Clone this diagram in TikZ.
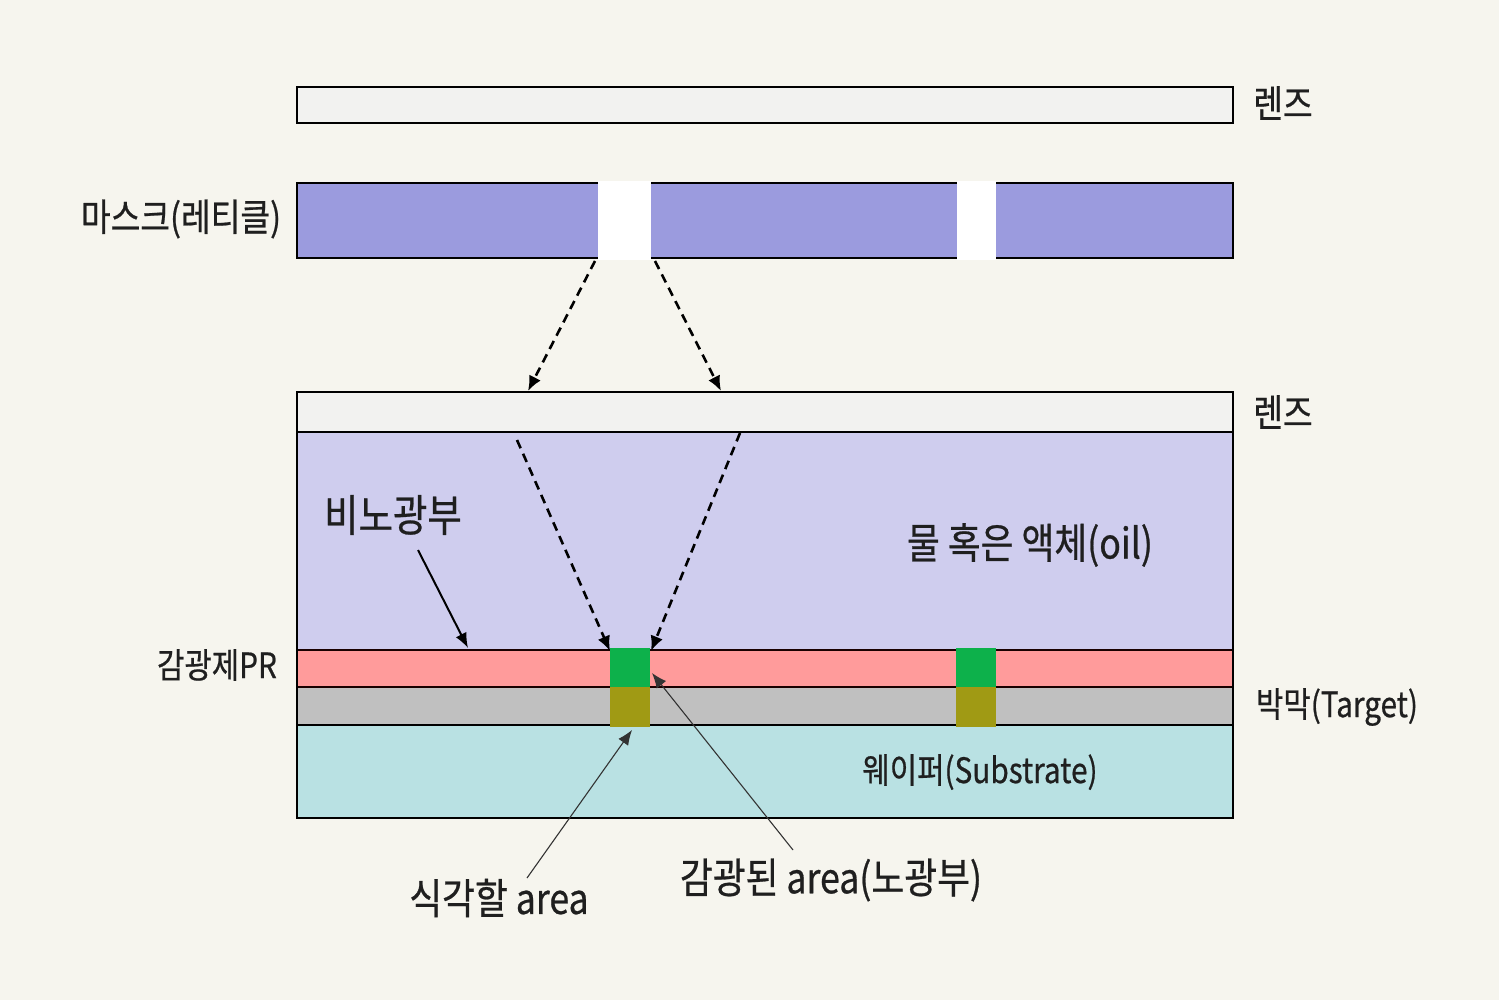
\documentclass[tikz,border=0pt]{standalone}
\usepackage{fontspec}
\newfontfamily\kr[FakeStretch=0.85,FakeBold=0.6]{Noto Sans CJK KR}
\usetikzlibrary{arrows.meta}
\definecolor{bg}{HTML}{F6F5EE}
\definecolor{lensc}{HTML}{F2F2F0}
\definecolor{maskc}{HTML}{9B9BDE}
\definecolor{liqc}{HTML}{CFCDEE}
\definecolor{prc}{HTML}{FF9B9B}
\definecolor{filmc}{HTML}{C0C0C0}
\definecolor{subc}{HTML}{B9E1E3}
\definecolor{expc}{HTML}{0DB14B}
\definecolor{etchc}{HTML}{A09A14}
\newcommand{\fsz}[1]{\kr\fontsize{#1}{#1}\selectfont}
\tikzset{
  layer/.style={draw=black, line width=1.8pt},
  lbl/.style={text=black!88, inner sep=0pt},
  dasharrow/.style={dashed, dash pattern=on 9pt off 6pt, line width=2.6pt, -{Latex[length=15pt,width=13pt]}},
  solidarrow/.style={line width=2pt, -{Latex[length=15pt,width=12pt]}},
  thinarrow/.style={line width=1.1pt, black!80, -{Latex[length=15pt,width=12pt]}}
}
\begin{document}
\begin{tikzpicture}[x=1pt,y=-1pt]
\useasboundingbox (0,0) rectangle (1499,1000);
\fill[bg] (0,0) rectangle (1499,1000);
% top lens
\draw[layer, fill=lensc] (297,87) rectangle (1233,123);
\node[lbl, font=\fsz{38}] (lens1) at (1283,103) {렌즈};
% mask
\fill[maskc] (297,183) rectangle (1233,258);
\fill[white] (598,181) rectangle (651,260);
\fill[white] (957,181) rectangle (996,260);
\draw[line width=1.8pt] (598,183) -- (297,183) -- (297,258) -- (598,258);
\draw[line width=1.8pt] (651,183) -- (957,183);
\draw[line width=1.8pt] (651,258) -- (957,258);
\draw[line width=1.8pt] (996,183) -- (1233,183) -- (1233,258) -- (996,258);
\node[lbl, font=\fsz{38}] (mask) at (181,219) {마스크(레티클)};
\coordinate (m1) at (595,261);
\coordinate (m2) at (655,261);
% lower stack
\fill[liqc] (297,432) rectangle (1233,650);
\fill[prc] (297,650) rectangle (1233,687);
\fill[filmc] (297,687) rectangle (1233,725);
\fill[subc] (297,725) rectangle (1233,818);
\draw[layer, fill=lensc] (297,392) rectangle (1233,432);
\draw[line width=2.4pt, black!90!red] (297,650) -- (1233,650);
\draw[line width=2.4pt, black!90!red] (297,687) -- (1233,687);
\draw[line width=1.8pt] (297,725) -- (1233,725);
\draw[line width=1.8pt] (297,432) rectangle (1233,818);
% exposed / etch blocks
\fill[expc] (610,648) rectangle (650,687);
\fill[etchc] (610,687) rectangle (650,727);
\fill[expc] (956,648) rectangle (996,687);
\fill[etchc] (956,687) rectangle (996,727);
\coordinate (l1) at (528,391);
\coordinate (l2) at (721,391);
\draw[dasharrow] (m1) -- (l1);
\draw[dasharrow] (m2) -- (l2);
\coordinate (s1) at (517,440);
\coordinate (s2) at (740,433);
\coordinate (e1) at (610,651);
\coordinate (e2) at (651,651);
\draw[dasharrow] (s1) -- (e1);
\draw[dasharrow] (s2) -- (e2);
\node[lbl, font=\fsz{38}] (lens2) at (1283,412) {렌즈};
\node[lbl, font=\fsz{44}] (non) at (393,515) {비노광부};
\coordinate (nonend) at (468,648);
\draw[solidarrow] (418,550) -- (nonend);
\node[lbl, font=\fsz{42}] (oil) at (1030,545) {물 혹은 액체(oil)};
\node[lbl, font=\fsz{35}] (pr) at (217,665) {감광제PR};
\node[lbl, font=\fsz{35}] (tgt) at (1337,707) {박막(Target)};
\node[lbl, font=\fsz{35}] (sub) at (980,772) {웨이퍼(Substrate)};
\node[lbl, font=\fsz{42}] (etch) at (499,898) {식각할 area};
\node[lbl, font=\fsz{42}] (expo) at (831,880) {감광된 area(노광부)};
\coordinate (etchtip) at (632,730);
\coordinate (expotip) at (652,673);
\draw[thinarrow] (527,878) -- (etchtip);
\draw[thinarrow] (793,850) -- (expotip);
\end{tikzpicture}
\end{document}
